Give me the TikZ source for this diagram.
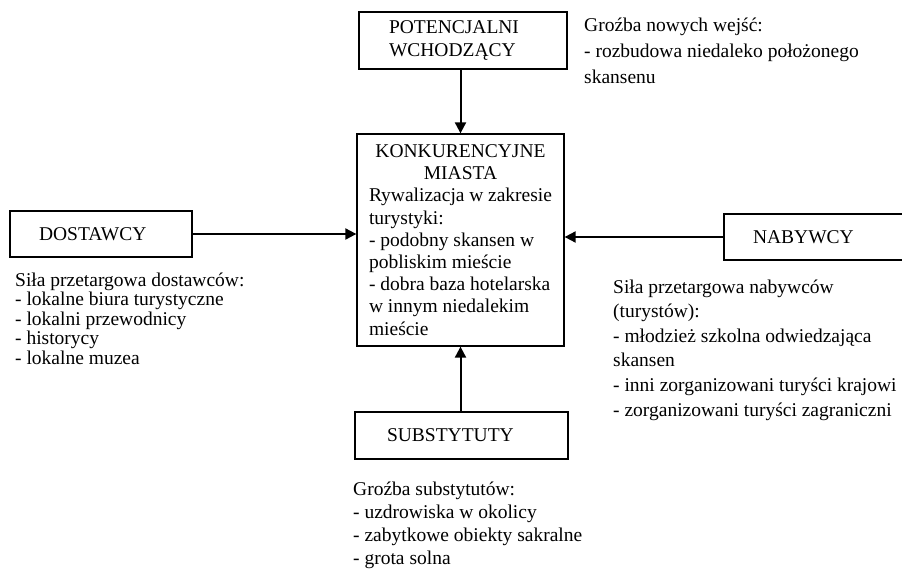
\documentclass[tikz,border=0pt]{standalone}
\usepackage{fontspec}
\setmainfont{Liberation Serif}
\usetikzlibrary{arrows.meta}
\begin{document}
\begin{tikzpicture}[x=1pt,y=-1pt,
  box/.style={draw, line width=1.3pt, inner sep=0pt, rectangle, align=left,
    font=\fontsize{19.5}{23}\selectfont},
  arr/.style={line width=2pt, -{Triangle[length=11pt,width=11pt]}},
  txt/.style={anchor=base west, align=left, inner sep=0pt},
  fs/.style={font=\fontsize{19.5}{#1}\selectfont}]
\useasboundingbox[fill=white] (0,0) rectangle (902,575);

% boxes
\node[box, minimum width=208, minimum height=57, text width=148] (pot) at (463,40.5)
  {POTENCJALNI\\WCHODZĄCY};
\node[box, minimum width=207, minimum height=212, text width=183, align=none,
  font=\fontsize{19.5}{22.2}\selectfont] (cent) at (460.5,240)
  {\centering KONKURENCYJNE\\MIASTA\par
   \raggedright Rywalizacja w zakresie\\turystyki:\\- podobny skansen w\\pobliskim mieście\\- dobra baza hotelarska\\w innym niedalekim\\mieście\par};
\node[box, minimum width=182, minimum height=46, text width=124] (dost) at (101,234) {DOSTAWCY};
\node[box, minimum width=182, minimum height=46, text width=124] (nab) at (815,237) {NABYWCY};
\node[box, minimum width=213, minimum height=47, text width=149] (sub) at (461.5,435.5) {SUBSTYTUTY};

% arrows
\draw[arr] (cent.north |- pot.south) -- (cent.north);
\draw[arr] (dost.east) -- (dost.east -| cent.west);
\draw[arr] (nab.west) -- (nab.west -| cent.east);
\draw[arr] (sub.north -| cent.south) -- (cent.south);

% descriptions (anchor = baseline of the last line)
\node[txt, fs=26.2] (tpot) at (584,84)
  {Groźba nowych wejść:\\- rozbudowa niedaleko położonego\\skansenu};
\node[txt, fs=19.5] (tdost) at (15,364)
  {Siła przetargowa dostawców:\\- lokalne biura turystyczne\\- lokalni przewodnicy\\- historycy\\- lokalne muzea};
\node[txt, fs=24.6] (tnab) at (613,416)
  {Siła przetargowa nabywców\\(turystów):\\- młodzież szkolna odwiedzająca\\skansen\\- inni zorganizowani turyści krajowi\\- zorganizowani turyści zagraniczni};
\node[txt, fs=22.7] (tsub) at (353,564)
  {Groźba substytutów:\\- uzdrowiska w okolicy\\- zabytkowe obiekty sakralne\\- grota solna};
\end{tikzpicture}
\end{document}
